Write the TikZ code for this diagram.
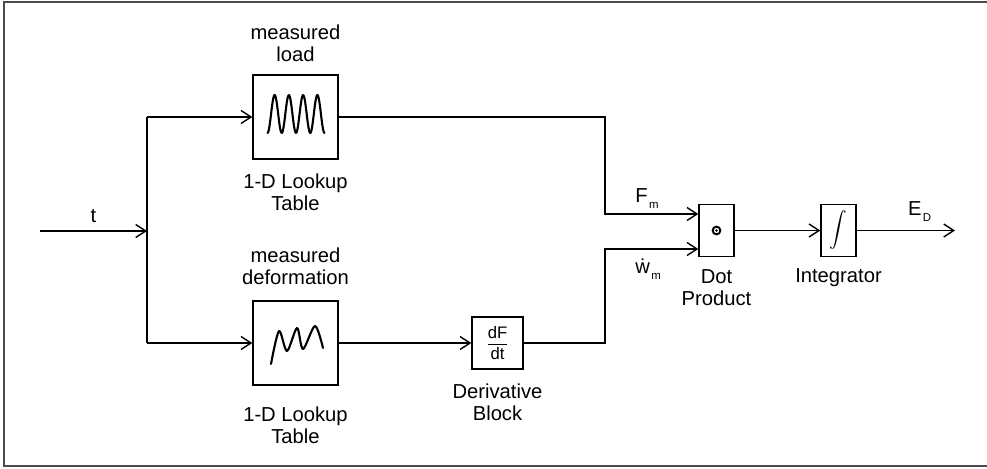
\documentclass[tikz,border=0pt]{standalone}
\usepackage{fontspec}
\setmainfont{Liberation Sans}
\usetikzlibrary{arrows.meta, positioning, calc}
\newcommand{\sublow}[1]{\kern0.8pt\raisebox{-3.5pt}{\fontsize{6.5}{7}\selectfont #1}}

\begin{document}
\begin{tikzpicture}[
    x=0.02cm, y=-0.02cm,
    font=\fontsize{11.5}{12.5}\selectfont,
    block/.style={draw, line width=0.8pt, inner sep=0pt, minimum width=1.7cm, minimum height=1.68cm},
    smallblock/.style={block, minimum width=0.7cm, minimum height=1.03cm},
    lbl/.style={align=center, inner sep=0pt},
    sig/.style={-{Straight Barb[length=2mm, width=2.6mm]}, line width=0.8pt},
    wire/.style={line width=0.8pt},
    wave/.style={line width=1.2pt, line join=round, line cap=round},
]
\useasboundingbox (0,0) rectangle (987,468);
\draw[black!70, line width=0.6pt] (992,2) -- (4,2) -- (4,466) -- (992,466);

\node[block] (lut1) at (295.5,117) {};
\node[block] (lut2) at (295.5,343) {};
\node[block, minimum width=1.02cm, minimum height=1.04cm] (deriv) at (497.5,343)
    {\fontsize{9.5}{10}\selectfont$\displaystyle\frac{\mbox{dF}}{\mbox{dt}}$};
\node[smallblock] (dot) at (716.5,230.5) {};
\node[smallblock] (integ) at (838.5,230.5) {\fontsize{9.5}{10}\selectfont$\displaystyle\int$};

\coordinate (in) at (40,231);
\coordinate (split) at (147,231);
\coordinate (fk) at (605,214);
\coordinate (wk) at (605,249);
\coordinate (out) at (955,230.5);

\node[lbl, above=0.24cm of lut1] (lut1top) {measured\\load};
\node[lbl, below=0.27cm of lut1] (lut1bot) {1-D Lookup\\Table};
\node[lbl, above=0.3cm of lut2] (lut2top) {measured\\deformation};
\node[lbl, below=0.42cm of lut2] (lut2bot) {1-D Lookup\\Table};
\node[lbl, below=0.28cm of deriv] (derivlbl) {Derivative\\Block};
\node[lbl, below=0.24cm of dot] (dotlbl) {Dot\\Product};
\node[lbl, below=0.22cm of integ] (integlbl) {Integrator};

\draw[sig] (in) -- node[lbl, above=0.15cm] (tlbl) {t} (split);
\draw[wire] (split |- lut1) -- (split |- lut2);
\draw[sig] (split |- lut1) -- (lut1.west);
\draw[sig] (split |- lut2) -- (lut2.west);
\draw[sig] (lut1.east) -| (fk) -- (fk -| dot.west);
\draw[sig] (lut2.east) -- (deriv.west);
\draw[sig] (deriv.east) -| (wk) -- (wk -| dot.west);
\draw[sig] (dot.east) -- (integ.west);
\draw[sig] (integ.east) -- (out);

\node[lbl, anchor=base west] (fmlbl) at ($(fk)+(30,-12)$) {F\sublow{m}};
\node[lbl, anchor=base west] (wmlbl) at ($(wk)+(30,24)$) {ẇ\sublow{m}};
\node[lbl, anchor=base west] (edlbl) at ($(integ.east)+(51,-15)$) {E\sublow{D}};

\draw[wave, shift={(lut1.center)}] plot[domain=0:1, samples=90, smooth] ({-28+57*\x}, {-3+19*cos(1440*\x)});
\draw[wave, shift={(lut2.center)}] plot[smooth, tension=0.5] coordinates
    {(-24.5,21) (-16.5,-12) (-8.5,8) (1.5,-15) (7.5,6) (19.5,-17) (27.5,5)};
\draw[line width=1.1pt] (dot.center) circle (2.2pt);
\fill (dot.center) circle (0.8pt);
\end{tikzpicture}
\end{document}
